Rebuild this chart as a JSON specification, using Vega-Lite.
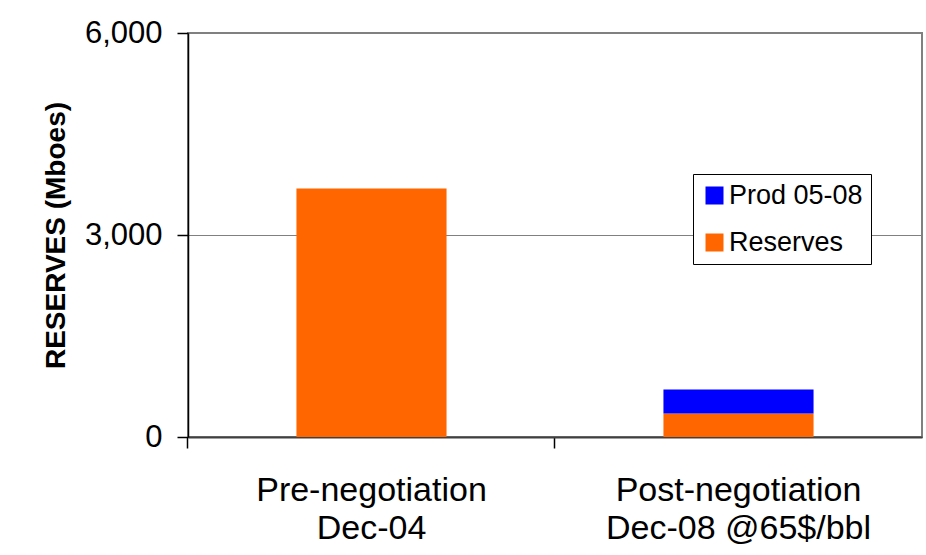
{
  "$schema": "https://vega.github.io/schema/vega-lite/v6.json",
  "autosize": "none",
  "width": 734,
  "height": 404,
  "padding": {"left": 188, "top": 33, "right": 4, "bottom": 118},
  "background": "white",
  "config": {
    "font": "Liberation Sans",
    "view": {"stroke": "#808080", "strokeWidth": 2}
  },
  "data": {
    "values": [
      {"category": "Pre-negotiation\nDec-04", "series": "Reserves", "value": 3690},
      {"category": "Post-negotiation\nDec-08 @65$/bbl", "series": "Reserves", "value": 350},
      {"category": "Post-negotiation\nDec-08 @65$/bbl", "series": "Prod 05-08", "value": 355}
    ]
  },
  "mark": {"type": "bar"},
  "encoding": {
    "x": {
      "field": "category",
      "type": "nominal",
      "sort": null,
      "scale": {"paddingInner": 0.591, "paddingOuter": 0.2955},
      "axis": {
        "title": null,
        "labelAngle": 0,
        "labelExpr": "split(datum.label, '\\n')",
        "labelFontSize": 34,
        "labelLineHeight": 38,
        "labelColor": "black",
        "labelBaseline": "top",
        "labelPadding": 25,
        "labelLimit": 0,
        "bandPosition": -0.723,
        "ticks": true,
        "tickSize": 11,
        "tickColor": "black",
        "tickWidth": 1.5,
        "domainColor": "#404040",
        "domainWidth": 2,
        "grid": false
      }
    },
    "y": {
      "field": "value",
      "type": "quantitative",
      "stack": "zero",
      "scale": {"domain": [0, 6000], "nice": false},
      "axis": {
        "title": "RESERVES (Mboes)",
        "titleFontSize": 28,
        "titleFontWeight": "bold",
        "titleColor": "black",
        "titlePadding": 14,
        "values": [0, 3000, 6000],
        "format": ",d",
        "labelFontSize": 31,
        "labelColor": "black",
        "labelPadding": 15,
        "tickSize": 11,
        "tickColor": "black",
        "tickWidth": 1.5,
        "domainColor": "black",
        "domainWidth": 1.5,
        "grid": true,
        "gridColor": "#808080",
        "gridWidth": 1
      }
    },
    "color": {
      "field": "series",
      "type": "nominal",
      "scale": {"domain": ["Prod 05-08", "Reserves"], "range": ["#0000FF", "#FF6600"]},
      "legend": {
        "title": null,
        "orient": "none",
        "legendX": 505,
        "legendY": 141,
        "padding": 8,
        "strokeColor": "black",
        "fillColor": "white",
        "symbolType": "square",
        "symbolSize": 324,
        "symbolStrokeWidth": 0,
        "symbolOpacity": 1,
        "labelFontSize": 27,
        "labelColor": "black",
        "labelOffset": 1,
        "labelLimit": 300,
        "rowPadding": 19
      }
    },
    "order": {"field": "series", "sort": "descending"}
  }
}
